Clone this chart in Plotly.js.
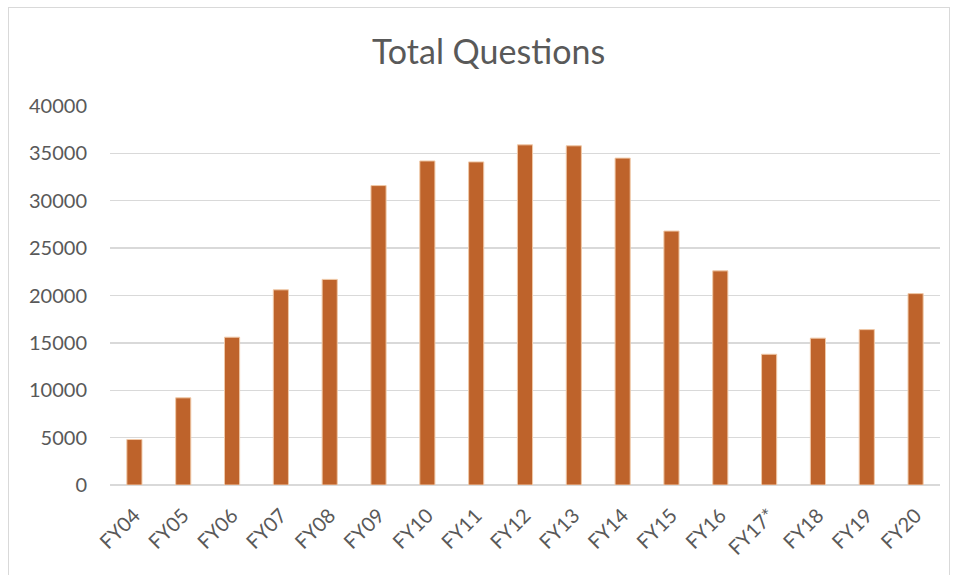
<!DOCTYPE html>
<html>
<head>
<meta charset="utf-8">
<script src="https://cdn.plot.ly/plotly-3.0.1.min.js"></script>
<style>
html,body{margin:0;padding:0;background:#fff;}
#frame{position:absolute;left:8px;top:7px;width:942px;height:575px;border:1px solid #d9d9d9;box-sizing:border-box;}
#chart{position:absolute;left:0;top:0;width:956px;height:575px;}
</style>
</head>
<body>
<div id="frame"></div>
<div id="chart"></div>
<script>
const categories = ["FY04","FY05","FY06","FY07","FY08","FY09","FY10","FY11","FY12","FY13","FY14","FY15","FY16","FY17*","FY18","FY19","FY20"];
const totalQuestions = [4800,9200,15600,20600,21700,31600,34200,34100,35900,35800,34500,26800,22600,13800,15500,16400,20200];
const yTicks = [0,5000,10000,15000,20000,25000,30000,35000,40000];

const trace = {
  type: "bar",
  x: categories,
  y: totalQuestions,
  marker: {color: "#BE632B", line: {color: "#F0C9A8", width: 1}},
  hoverinfo: "x+y"
};

const layout = {
  width: 956, height: 575,
  paper_bgcolor: "rgba(0,0,0,0)",
  plot_bgcolor: "rgba(0,0,0,0)",
  margin: {l: 110, r: 16, t: 106, b: 90},
  title: {text: "Total Questions", x: 0.511, xanchor: "center", y: 0.91, yanchor: "middle",
          font: {family: "Lato, 'Open Sans', sans-serif", size: 34, color: "#595959"}},
  bargap: 0.69,
  showlegend: false,
  font: {family: "Lato, 'Open Sans', sans-serif", color: "#595959", size: 20},
  xaxis: {
    type: "category",
    tickangle: -45,
    showgrid: false,
    zeroline: false,
    showline: false,
    ticks: "",
    ticklabelstandoff: 14,
    tickfont: {size: 20, color: "#595959"}
  },
  yaxis: {
    range: [0, 40000],
    tickvals: yTicks,
    ticktext: yTicks.map(String),
    showgrid: true,
    gridcolor: "#d9d9d9",
    gridwidth: 1.3,
    zeroline: true,
    zerolinecolor: "#d9d9d9",
    zerolinewidth: 1.3,
    showline: false,
    ticks: "",
    ticklen: 0,
    ticklabelstandoff: 22,
    tickfont: {size: 20, color: "#595959"},
    automargin: false
  }
};

Plotly.newPlot("chart", [trace], layout, {displayModeBar: false, staticPlot: true});
</script>
</body>
</html>
